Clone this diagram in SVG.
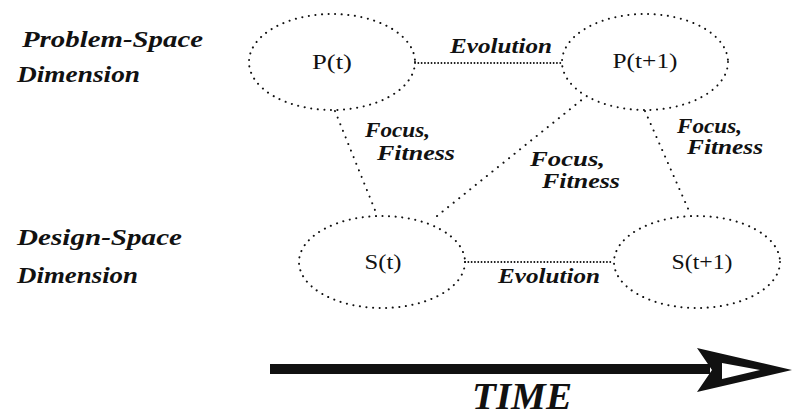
<svg xmlns="http://www.w3.org/2000/svg" width="794" height="417" viewBox="0 0 794 417">
  <style>
    .node { fill: none; stroke: #111; stroke-width: 2; stroke-linecap: round; stroke-dasharray: 0.1 6.5; }
    .link { fill: none; stroke: #111; stroke-width: 2; stroke-linecap: round; stroke-dasharray: 0.1 7; }
    .evo { fill: none; stroke: #111; stroke-width: 1.8; stroke-linecap: round; stroke-dasharray: 0.1 3.2; }
    .lbl { font-family: "Liberation Serif", "Times New Roman", serif; font-size: 20px; fill: #111; }
    .edge { font-family: "Liberation Serif", "Times New Roman", serif; font-style: italic; font-weight: bold; font-size: 20px; fill: #111; }
    .dim { font-family: "Liberation Serif", "Times New Roman", serif; font-style: italic; font-weight: bold; font-size: 23px; fill: #111; }
    .time { font-family: "Liberation Serif", "Times New Roman", serif; font-style: italic; font-weight: bold; font-size: 38px; fill: #111; }
  </style>

  <rect width="794" height="417" fill="#fff"/>

  <!-- axis titles -->
  <g id="problem-space-label">
    <text class="dim" x="22" y="47" textLength="181" lengthAdjust="spacingAndGlyphs">Problem-Space</text>
    <text class="dim" x="17" y="82" textLength="123" lengthAdjust="spacingAndGlyphs">Dimension</text>
  </g>
  <g id="design-space-label">
    <text class="dim" x="17" y="245" textLength="165" lengthAdjust="spacingAndGlyphs">Design-Space</text>
    <text class="dim" x="17" y="283" textLength="121" lengthAdjust="spacingAndGlyphs">Dimension</text>
  </g>

  <!-- connectors -->
  <g id="connectors">
    <line class="evo" x1="415" y1="63" x2="561" y2="63"/>
    <line class="evo" x1="465" y1="262" x2="613" y2="262"/>
    <line class="link" x1="335" y1="111" x2="377" y2="215"/>
    <line class="link" x1="437" y1="216" x2="584" y2="98"/>
    <line class="link" x1="645" y1="111" x2="690" y2="213"/>

    <text class="edge" x="450" y="53" textLength="102" lengthAdjust="spacingAndGlyphs">Evolution</text>
    <text class="edge" x="498" y="283" textLength="102" lengthAdjust="spacingAndGlyphs">Evolution</text>

    <text class="edge" x="365" y="137" textLength="65" lengthAdjust="spacingAndGlyphs">Focus,</text>
    <text class="edge" x="377" y="160" textLength="78" lengthAdjust="spacingAndGlyphs">Fitness</text>

    <text class="edge" x="530" y="166" textLength="75" lengthAdjust="spacingAndGlyphs">Focus,</text>
    <text class="edge" x="542" y="188" textLength="78" lengthAdjust="spacingAndGlyphs">Fitness</text>

    <text class="edge" x="677" y="133" textLength="65" lengthAdjust="spacingAndGlyphs">Focus,</text>
    <text class="edge" x="687" y="154" textLength="76" lengthAdjust="spacingAndGlyphs">Fitness</text>
  </g>

  <!-- states -->
  <g id="node-p-t">
    <ellipse class="node" cx="332" cy="62" rx="83" ry="48"/>
    <text class="lbl" x="332" y="69" text-anchor="middle" textLength="40" lengthAdjust="spacingAndGlyphs">P(t)</text>
  </g>
  <g id="node-p-t1">
    <ellipse class="node" cx="645" cy="62" rx="83" ry="48"/>
    <text class="lbl" x="645" y="68" text-anchor="middle" textLength="65" lengthAdjust="spacingAndGlyphs">P(t+1)</text>
  </g>
  <g id="node-s-t">
    <ellipse class="node" cx="382" cy="262" rx="83" ry="46"/>
    <text class="lbl" x="383" y="269" text-anchor="middle" textLength="37" lengthAdjust="spacingAndGlyphs">S(t)</text>
  </g>
  <g id="node-s-t1">
    <ellipse class="node" cx="697" cy="262" rx="83" ry="46"/>
    <text class="lbl" x="702" y="269" text-anchor="middle" textLength="61" lengthAdjust="spacingAndGlyphs">S(t+1)</text>
  </g>

  <!-- time axis -->
  <g id="time-axis">
    <rect x="270" y="364" width="440" height="10" fill="#111"/>
    <path d="M697,348 L792,370 L697,392 L712,370 Z M722,363 L760,370 L722,379 Z" fill="#111" fill-rule="evenodd"/>
    <text class="time" x="472" y="409" textLength="100" lengthAdjust="spacingAndGlyphs">TIME</text>
  </g>
</svg>
